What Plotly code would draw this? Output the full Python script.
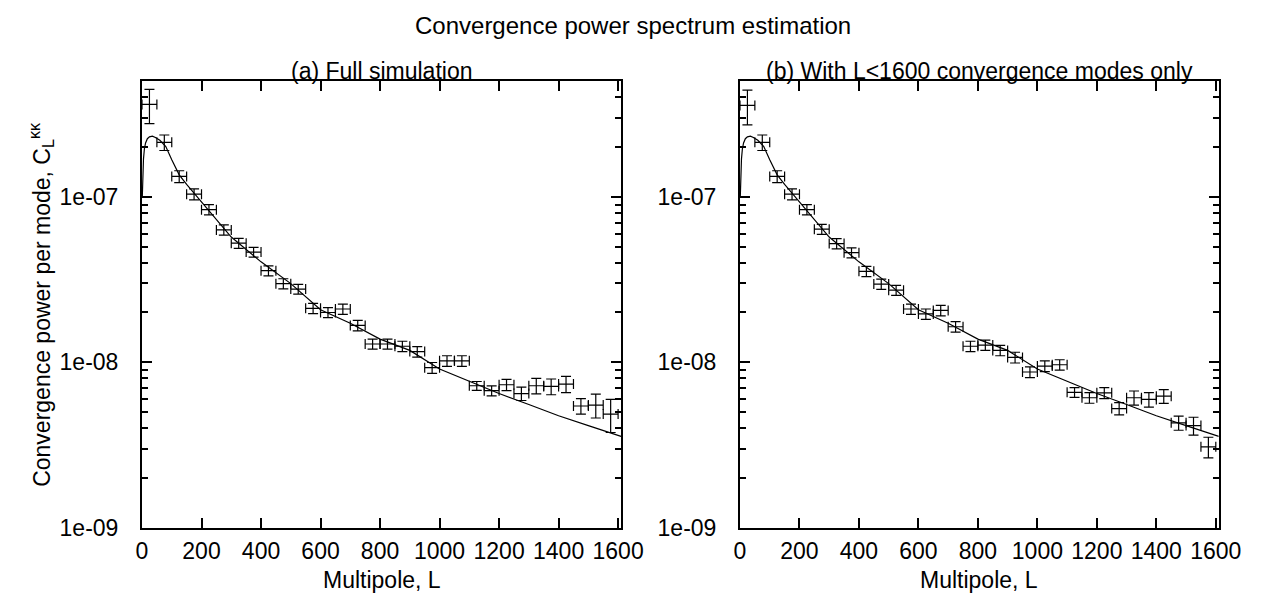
import plotly.graph_objects as go

# ---------------- data ----------------
L_bins = [25, 75, 125, 175, 225, 275, 325, 375, 425, 475, 525, 575, 625, 675, 725, 775,
          825, 875, 925, 975, 1025, 1075, 1125, 1175, 1225, 1275, 1325, 1375, 1425, 1475, 1525, 1575]
L_halfwidth = [25] * 32

C_full = [3.63e-7, 2.14e-7, 1.33e-7, 1.04e-7, 8.38e-8, 6.32e-8, 5.25e-8, 4.64e-8, 3.58e-8, 2.99e-8,
          2.77e-8, 2.12e-8, 2.00e-8, 2.10e-8, 1.67e-8, 1.29e-8, 1.29e-8, 1.25e-8, 1.16e-8, 9.27e-9,
          1.02e-8, 1.02e-8, 7.21e-9, 6.73e-9, 7.31e-9, 6.47e-9, 7.21e-9, 7.14e-9, 7.38e-9, 5.44e-9,
          5.51e-9, 4.86e-9]
err_full = [8.5e-8, 2.3e-8, 1.1e-8, 8.0e-9, 6.0e-9, 4.5e-9, 3.7e-9, 3.2e-9, 2.5e-9, 2.1e-9,
            1.9e-9, 1.5e-9, 1.4e-9, 1.5e-9, 1.2e-9, 9.0e-10, 9.0e-10, 9.0e-10, 8.5e-10, 7.0e-10,
            7.5e-10, 7.5e-10, 4.4e-10, 4.6e-10, 5.8e-10, 6.0e-10, 7.7e-10, 7.8e-10, 8.3e-10, 5.8e-10,
            9.1e-10, 1.1e-9]

C_cut = [3.58e-7, 2.14e-7, 1.33e-7, 1.04e-7, 8.38e-8, 6.38e-8, 5.22e-8, 4.60e-8, 3.55e-8, 2.97e-8,
         2.73e-8, 2.10e-8, 1.96e-8, 2.06e-8, 1.64e-8, 1.25e-8, 1.27e-8, 1.18e-8, 1.07e-8, 8.73e-9,
         9.49e-9, 9.66e-9, 6.58e-9, 6.10e-9, 6.53e-9, 5.25e-9, 6.10e-9, 5.96e-9, 6.24e-9, 4.30e-9,
         4.14e-9, 3.08e-9]
err_cut = [8.5e-8, 2.3e-8, 1.1e-8, 8.0e-9, 6.0e-9, 4.5e-9, 3.7e-9, 3.2e-9, 2.5e-9, 2.1e-9,
           1.9e-9, 1.5e-9, 1.4e-9, 1.5e-9, 1.2e-9, 9.0e-10, 9.0e-10, 8.5e-10, 8.0e-10, 6.5e-10,
           7.0e-10, 7.0e-10, 4.5e-10, 4.5e-10, 5.0e-10, 4.5e-10, 6.0e-10, 6.0e-10, 6.0e-10, 4.2e-10,
           5.1e-10, 4.4e-10]

L_theory = [1, 3, 5, 8, 12, 18, 25, 35, 45, 60, 80, 100, 125, 150, 200, 300, 400, 500, 600,
            700, 800, 900, 1000, 1100, 1200, 1300, 1400, 1500, 1610]
C_theory = [1.0e-7, 1.4e-7, 1.7e-7, 1.95e-7, 2.12e-7, 2.25e-7, 2.31e-7, 2.33e-7, 2.29e-7, 2.20e-7,
            2.02e-7, 1.68e-7, 1.36e-7, 1.19e-7, 9.3e-8, 5.72e-8, 4.05e-8, 2.99e-8, 2.08e-8,
            1.72e-8, 1.38e-8, 1.18e-8, 9.1e-9, 7.64e-9, 6.47e-9, 5.55e-9, 4.75e-9, 4.14e-9, 3.56e-9]

x_ticks = [0, 200, 400, 600, 800, 1000, 1200, 1400, 1600]
y_ticks = [1e-9, 1e-8, 1e-7]
y_ticktext = ["1e-09", "1e-08", "1e-07"]

main_title = "Convergence power spectrum estimation"
panel_titles = ["(a) Full simulation", "(b) With L<1600 convergence modes only"]
x_title = "Multipole, L"
y_title = "Convergence power per mode, C<sub>L</sub><sup>κκ</sup>"

# ---------------- figure ----------------
W, H = 1267, 605
FONT = "Liberation Sans, Arial, sans-serif"
FS = 23

dom_a = [131 / W, 621.3 / W]
dom_b = [743 / W, 1233 / W]
dom_y = [1 - 531 / H, 1 - 75 / H]

fig = go.Figure()

series = [(C_full, err_full, "x", "y"), (C_cut, err_cut, "x2", "y2")]
for C, err, xa, ya in series:
    fig.add_trace(go.Scatter(
        x=L_theory, y=C_theory, mode="lines", line=dict(color="black", width=1.2),
        xaxis=xa, yaxis=ya, showlegend=False, hoverinfo="skip"))
    fig.add_trace(go.Scatter(
        x=L_bins, y=C, mode="markers",
        marker=dict(size=2, color="rgba(0,0,0,0)"),
        error_y=dict(type="data", array=err, visible=True, color="black", thickness=1.2, width=5),
        error_x=dict(type="data", array=L_halfwidth, visible=True, color="black", thickness=1.2, width=5),
        xaxis=xa, yaxis=ya, showlegend=False))

xcommon = dict(range=[0, 1610], tickvals=x_ticks, ticks="inside", ticklen=10, tickwidth=1.5,
               tickcolor="black", mirror="allticks", showline=True, linecolor="black", linewidth=2,
               showgrid=False, zeroline=False, ticklabelstandoff=2,
               tickfont=dict(family=FONT, size=FS, color="black"))
ycommon = dict(type="log", range=[-9, -6.301], tickvals=y_ticks, ticktext=y_ticktext,
               ticks="inside", ticklen=10, tickwidth=1.5, tickcolor="black", mirror="allticks",
               showline=True, linecolor="black", linewidth=2, showgrid=False, zeroline=False,
               tickfont=dict(family=FONT, size=FS, color="black"), ticklabelstandoff=17,
               minor=dict(ticks="inside", ticklen=6, tickwidth=1.5, tickcolor="black",
                          dtick="D1", showgrid=False))

fig.update_layout(
    width=W, height=H, margin=dict(l=0, r=0, t=0, b=0),
    paper_bgcolor="white", plot_bgcolor="white",
    font=dict(family=FONT, size=FS, color="black"),
    xaxis=dict(domain=dom_a, anchor="y", **xcommon),
    yaxis=dict(domain=dom_y, anchor="x", **ycommon),
    xaxis2=dict(domain=dom_b, anchor="y2", **xcommon),
    yaxis2=dict(domain=dom_y, anchor="x2", **ycommon),
)

ann = []
ann.append(dict(text=main_title, x=0.5, y=1 - 18 / H, xref="paper", yref="paper",
                showarrow=False, font=dict(size=24, family=FONT), xanchor="center", yanchor="middle"))
for dom, t in zip([dom_a, dom_b], panel_titles):
    ann.append(dict(text=t, x=(dom[0] + dom[1]) / 2, y=dom_y[1], xref="paper", yref="paper",
                    showarrow=False, font=dict(size=FS, family=FONT), xanchor="center",
                    yanchor="bottom", yshift=-5))
    ann.append(dict(text=x_title, x=(dom[0] + dom[1]) / 2, y=1 - 585 / H, xref="paper", yref="paper",
                    showarrow=False, font=dict(size=FS, family=FONT), xanchor="center", yanchor="middle"))
ann.append(dict(text=y_title, x=28 / W, y=(dom_y[0] + dom_y[1]) / 2, xref="paper", yref="paper",
                showarrow=False, textangle=-90, font=dict(size=FS, family=FONT),
                xanchor="center", yanchor="middle"))
fig.update_layout(annotations=ann)

fig.write_html("out.html")
